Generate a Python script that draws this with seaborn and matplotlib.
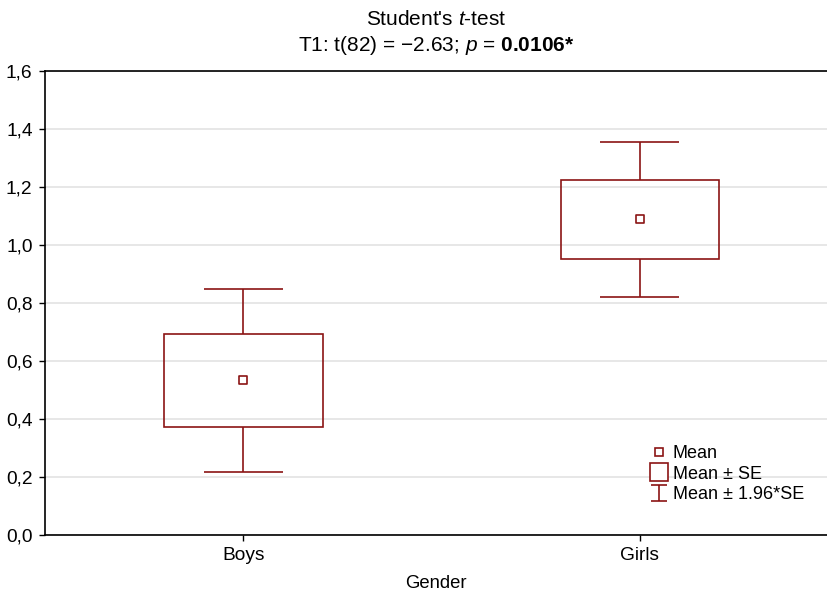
import numpy as np
import pandas as pd
import matplotlib
matplotlib.use("Agg")
import matplotlib.pyplot as plt
import seaborn as sns
from matplotlib.lines import Line2D
from matplotlib.path import Path

# ---- data ----
groups = ["Boys", "Girls"]
means = [0.532, 1.087]
se = [0.161, 0.136]
yticks = [0.0, 0.2, 0.4, 0.6, 0.8, 1.0, 1.2, 1.4, 1.6]
ytick_labels = ["0,0", "0,2", "0,4", "0,6", "0,8", "1,0", "1,2", "1,4", "1,6"]
title_line1 = "Student's $t$-test"
title_line2 = "T1: t(82) = \u22122.63; $p$ = $\\mathbf{0.0106{*}}$"
xlabel = "Gender"
legend_labels = ["Mean", "Mean \u00b1 SE", "Mean \u00b1 1.96*SE"]

sns.set_theme(style="white")
plt.rcParams["font.family"] = ["Liberation Sans", "DejaVu Sans"]
plt.rcParams["mathtext.fontset"] = "custom"
plt.rcParams["mathtext.rm"] = "Liberation Sans"
plt.rcParams["mathtext.it"] = "Liberation Sans:italic"
plt.rcParams["mathtext.bf"] = "Liberation Sans:bold"
for k in ["text.color", "axes.labelcolor", "xtick.color", "ytick.color"]:
    plt.rcParams[k] = "black"

C = "#8B1414"
FS_TICK = 13.8
FS_LABEL = 13.3
FS_TITLE = 15
FS_LEG = 13

df = pd.DataFrame({"Gender": groups, "mean": means, "se": se})
df["x"] = np.arange(len(df))
df["lo_se"] = df["mean"] - df["se"]
df["hi_se"] = df["mean"] + df["se"]
df["lo_ci"] = df["mean"] - 1.96 * df["se"]
df["hi_ci"] = df["mean"] + 1.96 * df["se"]

fig = plt.figure(figsize=(8.27, 5.94), dpi=100)
ax = fig.add_axes([45 / 827, 1 - 534.5 / 594, 1 - 45 / 827, (534.5 - 70.7) / 594])

# grid
ax.set_axisbelow(True)
ax.yaxis.grid(True, color="#E3E3E3", linewidth=1.2)
ax.xaxis.grid(False)

# Mean ± SE boxes
ax.bar(df["x"], 2 * df["se"], bottom=df["lo_se"], width=0.4, fill=False,
       edgecolor=C, linewidth=1.2, zorder=3)
# whiskers (from box edges to Mean ± 1.96*SE)
ax.vlines(df["x"], df["hi_se"], df["hi_ci"], color=C, linewidth=1.2, zorder=3)
ax.vlines(df["x"], df["lo_ci"], df["lo_se"], color=C, linewidth=1.2, zorder=3)
ax.hlines(df["hi_ci"], df["x"] - 0.1, df["x"] + 0.1, color=C, linewidth=1.2, zorder=3)
ax.hlines(df["lo_ci"], df["x"] - 0.1, df["x"] + 0.1, color=C, linewidth=1.2, zorder=3)
# means
sns.scatterplot(data=df, x="x", y="mean", marker="s", s=30, color="white",
                edgecolor=C, linewidth=1.2, ax=ax, zorder=4, legend=False)

ax.set_xlim(-0.5, 1.472)
ax.set_ylim(0, 1.6)
ax.set_xticks(df["x"])
ax.set_xticklabels(groups, fontsize=FS_TICK)
ax.set_yticks(yticks)
ax.set_yticklabels(ytick_labels, fontsize=FS_TICK)
ax.set_xlabel(xlabel, fontsize=FS_LABEL, labelpad=8)
ax.set_ylabel("")
ax.tick_params(axis="both", which="both", direction="out", length=4, width=1,
               color="black", bottom=True, left=True, pad=5)
for side in ["left", "bottom", "top"]:
    ax.spines[side].set_visible(True)
    ax.spines[side].set_color("black")
    ax.spines[side].set_linewidth(1.2)
ax.spines["right"].set_visible(False)

ax.set_title(title_line1 + "\n" + title_line2, fontsize=FS_TITLE, pad=14, linespacing=1.3)

# legend
imarker = Path([(-1, 1), (1, 1), (0, 1), (0, -1), (-1, -1), (1, -1)],
               [Path.MOVETO, Path.LINETO, Path.MOVETO, Path.LINETO, Path.MOVETO, Path.LINETO])
handles = [
    Line2D([], [], marker="s", ls="none", markersize=5.5, markerfacecolor="white",
           markeredgecolor=C, markeredgewidth=1.2),
    Line2D([], [], marker="s", ls="none", markersize=13, markerfacecolor="white",
           markeredgecolor=C, markeredgewidth=1.2),
    Line2D([], [], marker=imarker, ls="none", markersize=12, markerfacecolor="none",
           markeredgecolor=C, markeredgewidth=1.2),
]
ax.legend(handles, legend_labels, loc="upper left", frameon=False, fontsize=FS_LEG,
          bbox_to_anchor=(641 / 827, 1 - 436 / 594), bbox_transform=fig.transFigure,
          handlelength=1.0, handletextpad=0.25, labelspacing=0.2, borderpad=0)

fig.savefig("out.png", dpi=100)
